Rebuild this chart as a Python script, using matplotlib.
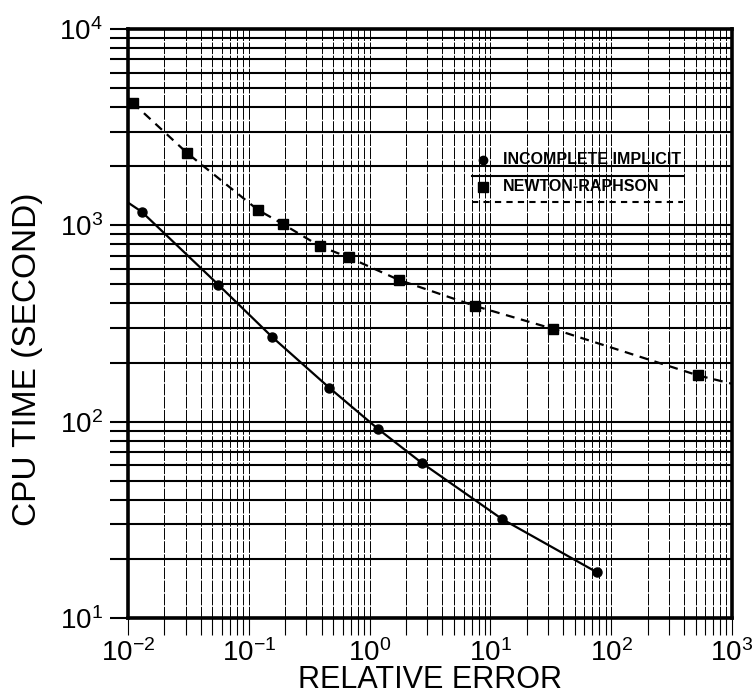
import matplotlib
matplotlib.use("Agg")
import matplotlib.pyplot as plt
from matplotlib.ticker import LogLocator, NullFormatter

plt.rcParams["font.family"] = ["Liberation Sans", "DejaVu Sans"]
plt.rcParams["mathtext.fontset"] = "custom"
plt.rcParams["mathtext.rm"] = "Liberation Sans"
plt.rcParams["mathtext.it"] = "Liberation Sans"

# Incomplete implicit scheme: relative error vs CPU time
ii_err = [0.0100, 0.013, 0.056, 0.157, 0.463, 1.18, 2.70, 12.5, 76.0]
ii_cpu = [1306, 1172, 498, 269, 149, 91.6, 61.7, 31.9, 17.1]
ii_marked = slice(1, None)

# Newton-Raphson scheme
nr_err = [0.0109, 0.0308, 0.1186, 0.191, 0.389, 0.671, 1.75, 7.5, 33.0, 524.0, 1000.0]
nr_cpu = [4216, 2338, 1200, 1016, 782, 687, 527, 388, 297, 172, 156]
nr_marked = slice(0, -1)

legend_labels = ["INCOMPLETE IMPLICIT", "NEWTON-RAPHSON"]

fig = plt.figure(figsize=(7.55, 6.97), dpi=100)
ax = fig.add_axes([128 / 755, 1 - 618 / 697, 604 / 755, 589 / 697])

ax.set_xscale("log")
ax.set_yscale("log")
ax.set_xlim(1e-2, 1e3)
ax.set_ylim(1e1, 1e4)

# log-paper grid: heavy horizontal rules, light broken verticals
ax.yaxis.grid(True, which="both", color="black", lw=1.5)
ax.xaxis.grid(True, which="both", color="black", lw=0.7, ls=(0, (12, 1.5)))
ax.set_axisbelow(True)

ax.xaxis.set_major_locator(LogLocator(base=10, numticks=10))
ax.xaxis.set_minor_locator(LogLocator(base=10, subs=range(2, 10), numticks=20))
ax.yaxis.set_major_locator(LogLocator(base=10, numticks=10))
ax.yaxis.set_minor_locator(LogLocator(base=10, subs=range(2, 10), numticks=20))
ax.xaxis.set_minor_formatter(NullFormatter())
ax.yaxis.set_minor_formatter(NullFormatter())

ax.tick_params(axis="y", which="both", direction="out", length=13, width=1.5, labelsize=20, pad=5)
ax.tick_params(axis="x", which="both", direction="out", length=12, width=0.8, labelsize=20, pad=3)

for side in ["top", "bottom", "left", "right"]:
    ax.spines[side].set_linewidth(2.6)
    ax.spines[side].set_color("black")

# data curves
ax.plot(ii_err, ii_cpu, color="black", lw=1.6, zorder=3)
ax.plot(ii_err[ii_marked], ii_cpu[ii_marked], ls="none", marker="o", ms=6.5,
        color="black", zorder=4)
ax.plot(nr_err, nr_cpu, color="black", lw=1.6, ls=(0, (4, 3)), zorder=3)
ax.plot(nr_err[nr_marked], nr_cpu[nr_marked], ls="none", marker="s", ms=6.5,
        color="black", zorder=4)

# in-plot key: marker + name, with the line style drawn underneath
tr = ax.transAxes
def ax_x(px):
    return (px - 128) / 604
def ax_y(py):
    return (618 - py) / 589

ax.plot([ax_x(483)], [ax_y(160)], transform=tr, marker="o", ms=6, color="black",
        ls="none", zorder=5, clip_on=False)
ax.text(ax_x(503), ax_y(160), legend_labels[0], transform=tr, fontsize=11.5,
        fontweight="bold", va="center", ha="left", zorder=5)
ax.plot([ax_x(472), ax_x(683)], [ax_y(176), ax_y(176)], transform=tr, color="black",
        lw=1.5, zorder=5)
ax.plot([ax_x(483)], [ax_y(187)], transform=tr, marker="s", ms=6.5, color="black",
        ls="none", zorder=5)
ax.text(ax_x(503), ax_y(187), legend_labels[1], transform=tr, fontsize=11.5,
        fontweight="bold", va="center", ha="left", zorder=5)
ax.plot([ax_x(472), ax_x(683)], [ax_y(202), ax_y(202)], transform=tr, color="black",
        lw=1.5, ls=(0, (3, 2.5)), zorder=5)

ax.set_xlabel("RELATIVE ERROR", fontsize=22)
ax.set_ylabel("CPU TIME (SECOND)", fontsize=24)
ax.xaxis.set_label_coords(0.5, -0.079)
ax.yaxis.set_label_coords(-0.14, 0.44)

fig.savefig("out.png", dpi=100)
